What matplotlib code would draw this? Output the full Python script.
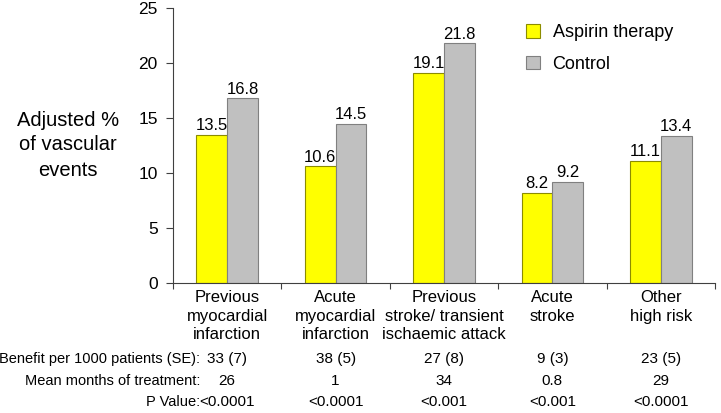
import numpy as np
import matplotlib
matplotlib.use("Agg")
import matplotlib.pyplot as plt
from matplotlib.transforms import blended_transform_factory

plt.rcParams['font.family'] = ['Liberation Sans', 'DejaVu Sans']

categories = ["Previous\nmyocardial\ninfarction", "Acute\nmyocardial\ninfarction",
              "Previous\nstroke/ transient\nischaemic attack", "Acute\nstroke", "Other\nhigh risk"]
aspirin = [13.5, 10.6, 19.1, 8.2, 11.1]
control = [16.8, 14.5, 21.8, 9.2, 13.4]
benefit = ["33 (7)", "38 (5)", "27 (8)", "9 (3)", "23 (5)"]
months = ["26", "1", "34", "0.8", "29"]
pvalues = ["<0.0001", "<0.0001", "<0.001", "<0.001", "<0.0001"]
row_labels = ["Benefit per 1000 patients (SE):", "Mean months of treatment:", "P Value:"]

W, H = 721, 413
fig = plt.figure(figsize=(W / 100, H / 100), dpi=100)
ax = fig.add_axes([173 / W, 1 - 283 / H, (715 - 173) / W, (283 - 8) / H])

x = np.arange(len(categories))
bw = 0.285
b1 = ax.bar(x - bw / 2, aspirin, bw, color="#ffff00", edgecolor="#8c8c00", linewidth=0.8,
            label="Aspirin therapy")
b2 = ax.bar(x + bw / 2, control, bw, color="#c0c0c0", edgecolor="#808080", linewidth=0.8,
            label="Control")
for bars, vals in ((b1, aspirin), (b2, control)):
    for r, v in zip(bars, vals):
        ax.text(r.get_x() + r.get_width() / 2, v + 0.15, f"{v:.1f}", ha="center", va="bottom",
                fontsize=12)

ax.set_xlim(-0.5, len(categories) - 0.5)
ax.set_ylim(0, 25)
ax.set_yticks(range(0, 26, 5))
ax.tick_params(axis="y", labelsize=12.5, length=5, width=0.8, color="#404040", pad=6)
ax.set_xticks(np.arange(-0.5, len(categories), 1))
ax.set_xticklabels([])
ax.tick_params(axis="x", which="major", length=4, width=0.8, color="#404040")
ax.set_xticks(x, minor=True)
ax.set_xticklabels(categories, minor=True, fontsize=12, linespacing=1.3)
ax.tick_params(axis="x", which="minor", length=0, pad=5)
for s in ("top", "right"):
    ax.spines[s].set_visible(False)
for s in ("left", "bottom"):
    ax.spines[s].set_color("#404040")
    ax.spines[s].set_linewidth(0.8)

ax.legend(loc="upper left", bbox_to_anchor=(0.622, 1.0), frameon=False, fontsize=13,
          handlelength=0.75, handleheight=0.75, handletextpad=0.7, labelspacing=0.8)

fig.text(68 / W, 1 - 145 / H, "Adjusted %\nof vascular\nevents", ha="center", va="center",
         fontsize=14.5, linespacing=1.4)

tr = blended_transform_factory(ax.transData, fig.transFigure)
for row_y, lab, vals in zip((359, 381, 402), row_labels, (benefit, months, pvalues)):
    fig.text(200 / W, 1 - row_y / H, lab, ha="right", va="center", fontsize=10.5)
    for xi, v in zip(x, vals):
        ax.text(xi, 1 - row_y / H, v, transform=tr, ha="center", va="center", fontsize=11)

fig.savefig("out.png", dpi=100)
